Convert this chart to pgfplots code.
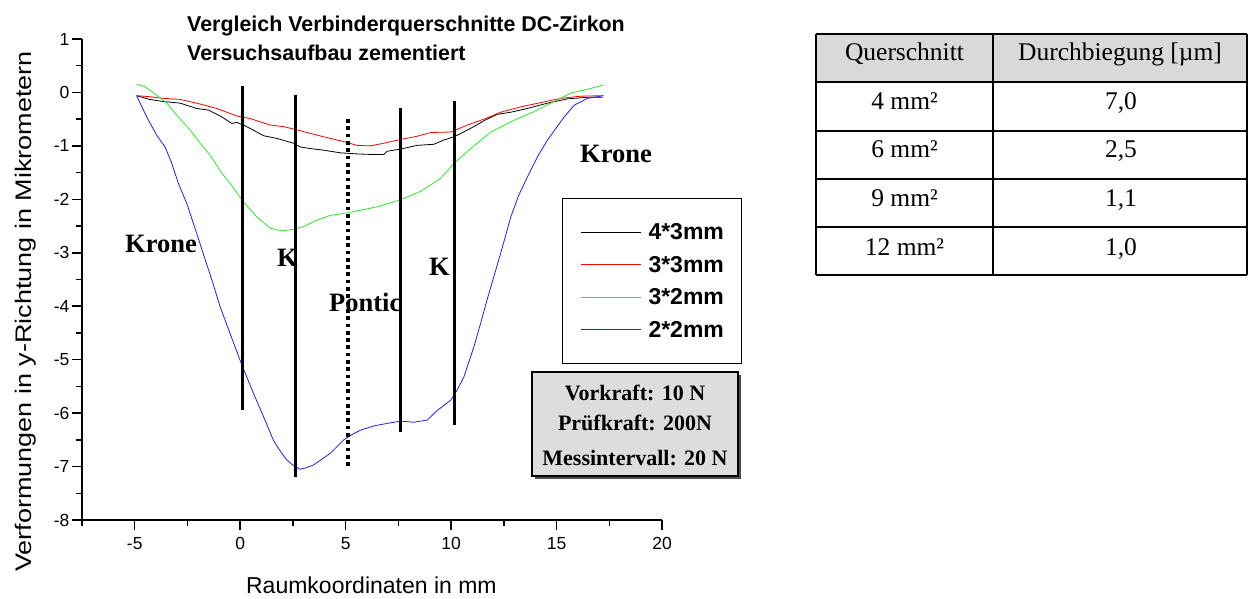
\documentclass[border=0pt]{standalone}
\usepackage{graphicx}
\usepackage{pgfplots}
\pgfplotsset{compat=1.18}
\usepackage{fontspec}
\setmainfont{Liberation Sans}
\newfontfamily\tnr{Liberation Serif}
\definecolor{cgreen}{RGB}{40,235,40}
\definecolor{cred}{RGB}{255,0,0}
\definecolor{cblue}{RGB}{30,30,255}
\definecolor{hdrgray}{RGB}{217,217,217}
\definecolor{boxgray}{RGB}{221,221,221}
\begin{document}
\begin{tikzpicture}
\begin{scope}[x=1pt,y=-1pt]
\path (0,0) rectangle (1248,599);
% title
\node[anchor=base west, inner sep=0pt, font=\fontsize{21.4}{25}\selectfont\bfseries] at (187,31.5) {Vergleich Verbinderquerschnitte DC-Zirkon};
\node[anchor=base west, inner sep=0pt, font=\fontsize{21.4}{25}\selectfont\bfseries] at (187,61) {Versuchsaufbau zementiert};
% region labels
\begin{scope}[every node/.style={inner sep=0pt, font=\tnr\fontsize{26.5}{30}\selectfont\bfseries}]
\node[anchor=base west] at (125,252) {Krone};
\node[anchor=base west] at (277,266) {K};
\node[anchor=base west] at (329,311) {Pontic};
\node[anchor=base west] at (429,275) {K};
\node[anchor=base west] at (580,163) {Krone};
\end{scope}
% info box
\fill[black!70] (535,375) rectangle (741,479);
\filldraw[fill=boxgray, draw=black, line width=2pt] (532,372) rectangle (738,476);
\begin{scope}[every node/.style={inner sep=0pt, anchor=base, font=\tnr\fontsize{22}{26}\selectfont\bfseries}]
\node at (635,400.5) {Vorkraft: 10 N};
\node at (635,430.5) {Prüfkraft: 200N};
\node at (635,465) {Messintervall: 20 N};
\end{scope}
% table
\fill[hdrgray] (816,34.3) rectangle (1247,81.7);
\foreach \yy in {34.3,81.7,130.7,179,226.7,275} {\draw[line width=2pt] (816,\yy) -- (1247,\yy);}
\foreach \xx in {816,993,1246.5} {\draw[line width=2pt] (\xx,34.3) -- (\xx,275);}
\begin{scope}[every node/.style={inner sep=0pt, anchor=base, font=\tnr\fontsize{25.5}{30}\selectfont}]
\node at (904.5,61) {Querschnitt};
\node at (1120,61) {Durchbiegung [µm]};
\node at (904.5,110) {4 mm²};
\node at (1121,110) {7,0};
\node at (904.5,158) {6 mm²};
\node at (1121,158) {2,5};
\node at (904.5,206.7) {9 mm²};
\node at (1121,206.7) {1,1};
\node at (904.5,255) {12 mm²};
\node at (1121,255) {1,0};
\end{scope}
\end{scope}
\begin{axis}[
  at={(82pt,-520pt)}, anchor=south west,
  scale only axis, width=580pt, height=481pt,
  xmin=-7.5, xmax=20, ymin=-8, ymax=1,
  axis lines=left,
  axis line style={-, line width=1.5pt},
  xtick={-5,0,5,10,15,20},
  ytick={-8,-7,...,1},
  minor xtick={-7.5,-2.5,2.5,7.5,12.5,17.5},
  minor ytick={-7.5,-6.5,...,0.5},
  tick align=outside,
  major tick length=10pt, minor tick length=6pt,
  every tick/.style={black, line width=1.5pt},
  /pgf/number format/assume math mode=true,
  ticklabel style={font=\fontsize{17.5}{19}\selectfont},
  xticklabel style={yshift=-4pt},
  yticklabel style={xshift=1pt},
  clip=false,
  xlabel={Raumkoordinaten in mm},
  ylabel={\scalebox{1.2}[1]{Verformungen in y-Richtung in Mikrometern}},
  label style={font=\fontsize{23}{26}\selectfont},
  xlabel style={at={(axis description cs:0.499,-0.1524)}, anchor=base},
  ylabel style={at={(axis description cs:-0.0867,0.4335)}, anchor=base, font=\fontsize{22.5}{26}\selectfont},
  legend style={at={(axis description cs:0.8276,0.6694)}, anchor=north west,
    draw=black, line width=1pt, inner xsep=18pt, inner ysep=25pt,
    font=\fontsize{23}{23}\selectfont\bfseries,
    nodes={inner sep=0pt}, row sep=15pt, column sep=7pt},
  legend cell align=left,
  legend image code/.code={\draw[#1, line width=1pt] (0pt,0pt) -- (60pt,0pt);},
]
\addplot[black, line width=0.8pt] coordinates {
(-4.91,-0.06) (-4.3,-0.13) (-3.64,-0.17) (-2.85,-0.20) (-2.06,-0.30) (-1.51,-0.33) (-0.95,-0.44)
(-0.39,-0.58) (-0.16,-0.56) (0.16,-0.61) (0.6,-0.70) (1.11,-0.81) (1.74,-0.86) (2.53,-0.95)
(2.85,-1.02) (3.33,-1.05) (3.96,-1.08) (4.75,-1.13) (5.54,-1.15) (6.2,-1.16) (6.81,-1.16)
(6.97,-1.10) (7.60,-1.06) (8.39,-0.99) (9.18,-0.97) (9.66,-0.89) (10.13,-0.83)
(10.45,-0.77) (11.08,-0.64) (11.6,-0.52) (12.19,-0.41) (12.83,-0.37) (13.62,-0.30) (14.57,-0.20)
(15.52,-0.12) (16.47,-0.09) (17.18,-0.09)};
\addlegendentry{4*3mm}
\addplot[cred, line width=0.8pt] coordinates {
(-4.91,-0.06) (-4.28,-0.08) (-3.64,-0.11) (-2.85,-0.13) (-2.06,-0.20) (-1.11,-0.30)
(-0.16,-0.44) (0.48,-0.49) (1.43,-0.61) (2.06,-0.64) (2.69,-0.70) (3.17,-0.75)
(3.96,-0.83) (4.91,-0.92) (5.54,-0.99) (6.18,-1.00) (6.81,-0.95) (7.60,-0.88)
(8.39,-0.82) (9.03,-0.75) (9.98,-0.74) (10.77,-0.61) (11.56,-0.50) (12.35,-0.37)
(13.30,-0.27) (14.25,-0.19) (15.20,-0.11) (16.15,-0.07) (17.18,-0.06)};
\addlegendentry{3*3mm}
\addplot[cgreen, line width=0.8pt] coordinates {
(-4.91,0.15) (-4.51,0.11) (-3.96,-0.05) (-3.48,-0.20) (-2.93,-0.46) (-2.38,-0.70)
(-1.90,-0.95) (-1.43,-1.17) (-0.87,-1.51) (-0.48,-1.70) (0.16,-2.05) (0.79,-2.33)
(1.43,-2.54) (1.98,-2.59) (2.53,-2.56) (3.01,-2.51) (3.64,-2.39) (4.28,-2.30)
(5.12,-2.25) (6.49,-2.14) (7.60,-2.01) (8.55,-1.85) (9.50,-1.61) (10.13,-1.33)
(10.93,-1.05) (11.88,-0.74) (12.98,-0.52) (13.93,-0.36) (14.88,-0.17) (15.68,-0.01)
(16.47,0.06) (17.23,0.14)};
\addlegendentry{3*2mm}
\addplot[cblue, line width=0.8pt] coordinates {
(-4.91,-0.06) (-4.43,-0.46) (-3.96,-0.80) (-3.56,-1.02) (-3.24,-1.33) (-2.93,-1.70)
(-2.53,-2.08) (-2.06,-2.64) (-1.70,-3.08) (-1.34,-3.51) (-0.95,-4.01) (-0.48,-4.51) (0.08,-5.10)
(0.63,-5.63) (1.11,-6.07) (1.58,-6.51) (1.95,-6.74) (2.22,-6.88) (2.55,-6.99) (2.85,-7.05) (3.15,-7.02) (3.48,-6.97)
(4.28,-6.75) (4.91,-6.50) (5.30,-6.40) (5.70,-6.32) (6.33,-6.24) (7.00,-6.19) (7.60,-6.15) (8.23,-6.17)
(8.87,-6.13) (9.34,-5.95) (9.98,-5.76) (10.30,-5.56) (10.61,-5.32) (11.08,-4.76) (11.40,-4.32)
(11.72,-3.86) (12.35,-3.01) (12.83,-2.33) (13.20,-1.93) (13.62,-1.58) (14.10,-1.20) (14.57,-0.89) (15.36,-0.46)
(15.83,-0.24) (16.47,-0.11) (17.23,-0.06)};
\addlegendentry{2*2mm}
% vertical region lines
\addplot[black, line width=3.2pt, forget plot] coordinates {(0.1,0.12) (0.1,-5.94)};
\addplot[black, line width=3.2pt, forget plot] coordinates {(2.61,-0.04) (2.61,-7.2)};
\addplot[black, line width=3.6pt, dash pattern=on 3.7pt off 3.6pt, forget plot] coordinates {(5.11,-0.50) (5.11,-7.04)};
\addplot[black, line width=3.2pt, forget plot] coordinates {(7.62,-0.29) (7.62,-6.35)};
\addplot[black, line width=3.2pt, forget plot] coordinates {(10.15,-0.16) (10.15,-6.23)};
\end{axis}
\end{tikzpicture}
\end{document}
